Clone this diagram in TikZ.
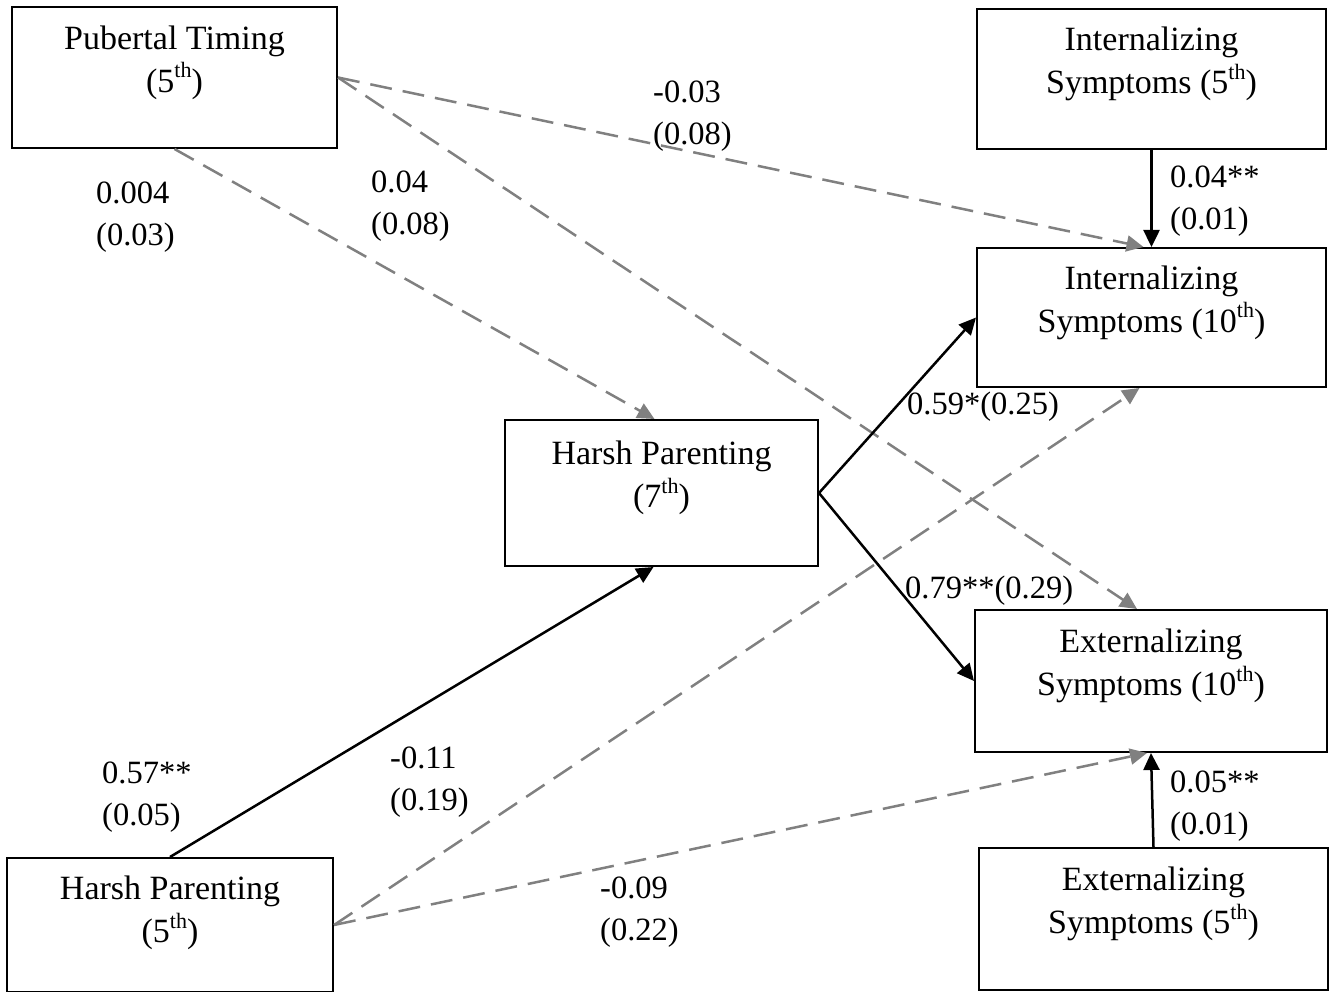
\documentclass[tikz,border=0pt]{standalone}
\usepackage{fontspec}
\setmainfont{Liberation Serif}
\usetikzlibrary{arrows.meta,calc}
\definecolor{pathgray}{RGB}{128,128,128}
\newcommand{\supth}{\raisebox{0.42em}{\fontsize{22}{22}\selectfont th}}
\begin{document}
\begin{tikzpicture}[x=1pt,y=-1pt,
  box/.style={draw=black,line width=2pt,rectangle,inner sep=0pt,fill=none},
  boxtext/.style={align=center,inner sep=0pt,font=\fontsize{34}{43}\selectfont},
  lab/.style={align=left,inner sep=0pt,anchor=north west,font=\fontsize{32.5}{42}\selectfont},
  solidarrow/.style={draw=black,line width=2.5pt,-{Triangle[length=17pt,width=16pt]}},
  dasharrow/.style={draw=pathgray,line width=2.5pt,dash pattern=on 22pt off 11pt,-{Triangle[length=17pt,width=16pt]}}
]
\useasboundingbox (0,0) rectangle (1334,992);
% boxes
\node[box,minimum width=325pt,minimum height=141pt] (pt) at (174.5,77.5) {};
\node[boxtext] (ptT) at ($(pt.center)+(0,-15)$) {Pubertal Timing\\(5\supth)};
\node[box,minimum width=349pt,minimum height=140pt] (i5) at (1151.5,79) {};
\node[boxtext] (i5T) at ($(i5.center)+(0,-15)$) {Internalizing\\Symptoms (5\supth)};
\node[box,minimum width=349pt,minimum height=139pt] (i10) at (1151.5,317.5) {};
\node[boxtext] (i10T) at ($(i10.center)+(0,-15)$) {Internalizing\\Symptoms (10\supth)};
\node[box,minimum width=313pt,minimum height=146pt] (h7) at (661.5,493) {};
\node[boxtext] (h7T) at ($(h7.center)+(0,-15)$) {Harsh Parenting\\(7\supth)};
\node[box,minimum width=352pt,minimum height=142pt] (e10) at (1151,681) {};
\node[boxtext] (e10T) at ($(e10.center)+(0,-15)$) {Externalizing\\Symptoms (10\supth)};
\node[box,minimum width=326pt,minimum height=134pt] (h5) at (170,925) {};
\node[boxtext] (h5T) at ($(h5.center)+(0,-12)$) {Harsh Parenting\\(5\supth)};
\node[box,minimum width=349pt,minimum height=142pt] (e5) at (1153.5,919) {};
\node[boxtext] (e5T) at ($(e5.center)+(0,-15)$) {Externalizing\\Symptoms (5\supth)};
% connectors
\draw[dasharrow] (pt.south) -- ($(h7.north)+(-7,0)$);
\draw[dasharrow] (pt.east) -- ($(i10.north)+(-8,0)$);
\draw[dasharrow] (pt.east) -- ($(e10.north)+(-14,0)$);
\draw[solidarrow] (h5.north) -- ($(h7.south)+(-8,0)$);
\draw[dasharrow] (h5.east) -- ($(i10.south)+(-12,0)$);
\draw[dasharrow] (h5.east) -- ($(e10.south)+(-4,0)$);
\draw[solidarrow] (h7.east) -- (i10.west);
\draw[solidarrow] (h7.east) -- (e10.west);
\draw[solidarrow] (i5.south) -- (i10.north);
\draw[solidarrow] (e5.north) -- (e10.south);
% labels
\node[lab] (l1) at (96,182) {0.004\\(0.03)};
\node[lab] (l2) at (371,171) {0.04\\(0.08)};
\node[lab] (l3) at (653,81) {-0.03\\(0.08)};
\node[lab] (l4) at (1170,166) {0.04**\\(0.01)};
\node[lab] (l5) at (907,392) {0.59*(0.25)};
\node[lab] (l6) at (905,576) {0.79**(0.29)};
\node[lab] (l7) at (102,762) {0.57**\\(0.05)};
\node[lab] (l8) at (390,747) {-0.11\\(0.19)};
\node[lab] (l9) at (1170,771) {0.05**\\(0.01)};
\node[lab] (l10) at (600,877) {-0.09\\(0.22)};
\end{tikzpicture}
\end{document}
